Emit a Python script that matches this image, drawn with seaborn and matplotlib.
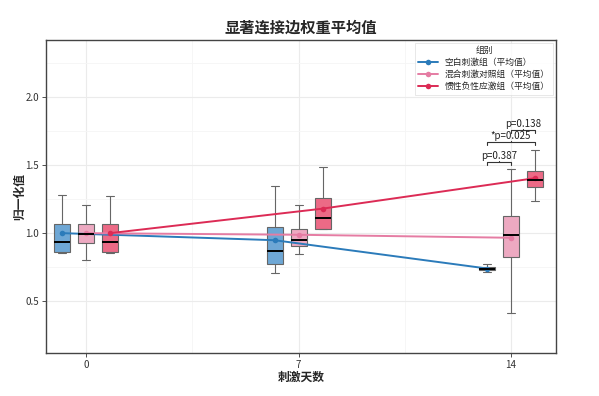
import seaborn as sns
import pandas as pd
import numpy as np
import matplotlib.pyplot as plt

days = [0, 7, 14]
groups = ['空白刺激组', '混合刺激对照组', '惯性负性应激组']
colors_line = ['#2B7BBA', '#E57CA3', '#DC2B55']
colors_box = ['#6EA7D5', '#EDA9C1', '#EC6A86']

# five-number summaries: low whisker, q1, median, q3, high whisker
blank_box = [[0.855, 0.863, 0.936, 1.070, 1.280],
             [0.708, 0.770, 0.872, 1.047, 1.348],
             [0.711, 0.728, 0.740, 0.752, 0.772]]
mixed_box = [[0.800, 0.924, 0.995, 1.064, 1.210],
             [0.846, 0.904, 0.953, 1.034, 1.206],
             [0.410, 0.824, 0.985, 1.125, 1.468]]
stress_box = [[0.857, 0.863, 0.936, 1.070, 1.270],
              [1.030, 1.032, 1.108, 1.255, 1.488],
              [1.233, 1.336, 1.390, 1.456, 1.610]]

# group means (lines)
blank_mean = [1.00, 0.948, 0.740]
mixed_mean = [1.00, 0.988, 0.966]
stress_mean = [1.00, 1.180, 1.404]

p_labels = ['p=0.387', '*p=0.025', 'p=0.138']

box_data = [blank_box, mixed_box, stress_box]
mean_data = [blank_mean, mixed_mean, stress_mean]

rows = []
for g, boxes in zip(groups, box_data):
    for d, vals in zip(days, boxes):
        for v in vals:
            rows.append({'day': d, 'group': g, 'value': v})
df_box = pd.DataFrame(rows)

offset = 0.79
offsets = [-offset, 0, offset]
rows = []
for g, means, o in zip(groups, mean_data, offsets):
    for d, m in zip(days, means):
        rows.append({'x': d + o, 'group': g + '（平均值）', 'mean': m})
df_mean = pd.DataFrame(rows)

sns.set_theme(style="whitegrid")
plt.rcParams['font.family'] = ['Noto Sans CJK SC', 'DejaVu Sans']

fig = plt.figure(figsize=(5.99, 3.96), dpi=100)
ax = fig.add_axes([0.077, 0.109, 0.851, 0.790])

sns.boxplot(data=df_box, x='day', y='value', hue='group', hue_order=groups,
            palette=colors_box, saturation=1, native_scale=True,
            width=0.339, gap=0.33, whis=np.inf, linecolor='#666666',
            linewidth=0.8, legend=False, ax=ax,
            medianprops={'color': 'black', 'linewidth': 1.4})

sns.lineplot(data=df_mean, x='x', y='mean', hue='group',
             palette=colors_line, marker='o', markersize=4,
             markeredgewidth=0, linewidth=1.4, ax=ax)

# significance brackets at day 14
xb = [14 - offset, 14, 14 + offset]
pairs = [(0, 1), (0, 2), (1, 2)]
levels = [1.52, 1.667, 1.757]
for (i, j), yb, lab in zip(pairs, levels, p_labels):
    ax.plot([xb[i], xb[i], xb[j], xb[j]], [yb - 0.02, yb, yb, yb - 0.02],
            color='#333333', linewidth=0.8)
    ax.plot([(xb[i] + xb[j]) / 2] * 2, [yb, yb + 0.012], color='#333333', linewidth=0.8)
    ax.text((xb[i] + xb[j]) / 2, yb + 0.01, lab, ha='center', va='bottom',
            fontsize=7, color='#222222')

ax.set_xlim(-1.32, 15.48)
ax.set_ylim(0.12, 2.42)
ax.set_xticks(days)
ax.set_xticklabels([str(d) for d in days])
ax.set_yticks([0.5, 1.0, 1.5, 2.0])
ax.set_xticks([3.5, 10.5], minor=True)
ax.set_yticks([0.75, 1.25, 1.75, 2.25], minor=True)
ax.grid(which='major', color='#EBEBEB', linewidth=0.8)
ax.grid(which='minor', color='#F5F5F5', linewidth=0.6)
ax.tick_params(axis='both', which='major', labelsize=7, colors='#333333',
               length=3, width=0.6, left=True, bottom=True, pad=2)
ax.tick_params(which='minor', length=0)
for s in ax.spines.values():
    s.set_color('#444444')
    s.set_linewidth(1.0)

ax.set_xlabel('刺激天数', fontsize=8.5, fontweight='bold', labelpad=1)
ax.set_ylabel('归一化值', fontsize=8.5, fontweight='bold')
ax.yaxis.set_label_coords(-0.04, 0.5)
ax.set_title('显著连接边权重平均值', fontsize=11, fontweight='bold', pad=5)

leg = ax.legend(title='组别', loc='upper right', fontsize=6.3, title_fontsize=6.3,
                frameon=True, edgecolor='#DDDDDD', fancybox=False,
                handlelength=2.2, borderaxespad=0.3, labelspacing=0.35)
leg.get_frame().set_linewidth(0.6)

fig.savefig('out.png', dpi=100)
